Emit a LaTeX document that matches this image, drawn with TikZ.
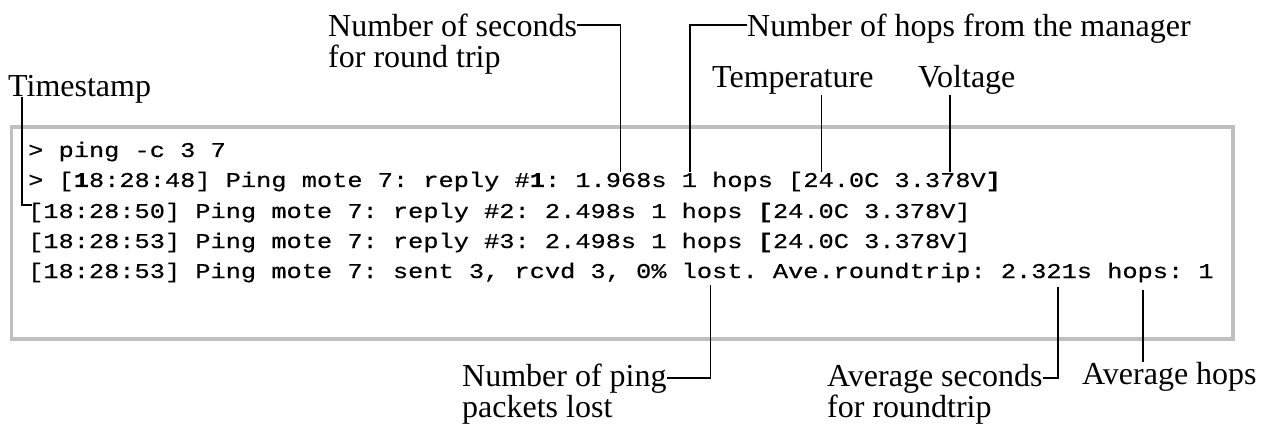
\documentclass[tikz,border=0pt]{standalone}
\usepackage{fontspec}
\setmainfont{Liberation Serif}
\newfontfamily\termfont{Liberation Mono}[FakeBold=0.4]
\usetikzlibrary{positioning}

\newcommand{\cw}{15.2pt}
% terminal text: 21pt glyphs stretched to a 15.2pt cell
\newlength{\termw}
\settowidth{\termw}{\fontsize{21}{21}\termfont 0000000000}
\pgfmathsetmacro{\termscale}{152/\termw}
\newcommand{\termline}[1]{\scalebox{\termscale}[1]{#1}}
\tikzset{
	lbl/.style={font=\fontsize{32}{31}\selectfont,inner sep=0pt,align=left,anchor=base west},
	term/.style={font=\fontsize{21}{21}\termfont\frenchspacing,inner sep=0pt,anchor=base west},
	lead/.style={line width=1.3pt},
}

\begin{document}
\begin{tikzpicture}[x=1pt,y=-1pt]
		\useasboundingbox (0,0) rectangle (1265,430);
		\draw[black!25,line width=3.5pt] (11.5,127) rectangle (1233,339);

		\node[term] (l1) at (28,157) {\termline{> ping -c 3 7}};
		\node[term] (l2) at (28,187) {\termline{> [{\bfseries 1}8:28:48] Ping mote 7: reply \#{\bfseries 1}: 1.968s 1 hops [24.0C 3.378V{\bfseries ]}}};
		\node[term] (l3) at (28,218) {\termline{[18:28:50] Ping mote 7: reply \#2: 2.498s 1 hops {\bfseries [}24.0C 3.378V]}};
		\node[term] (l4) at (28,248) {\termline{[18:28:53] Ping mote 7: reply \#3: 2.498s 1 hops {\bfseries [}24.0C 3.378V]}};
		\node[term] (l5) at (28,278) {\termline{[18:28:53] Ping mote 7: sent 3, rcvd 3, 0\% lost. Ave.roundtrip: 2.321s hops: 1}};

		\node[lbl] (ts) at (8,97) {Timestamp};
		\node[lbl] (secs) at (328,68) {Number of seconds\\for round trip};
		\node[lbl] (hops) at (747,37) {Number of hops from the manager};
		\node[lbl] (temp) at (712,88) {Temperature};
		\node[lbl] (volt) at (918,88) {Voltage};
		\node[lbl] (lost) at (462,417) {Number of ping\\packets lost};
		\node[lbl] (avgsec) at (827,417) {Average seconds\\for roundtrip};
		\node[lbl] (avghops) at (1082,384) {Average hops};

		\coordinate (c-ts) at ([xshift=4pt,yshift=13pt]l3.base west);
		\coordinate (c-sec) at ([xshift=39*\cw,yshift=15pt]l2.base west);
		\coordinate (c-hop) at ([xshift=43.55*\cw,yshift=15pt]l2.base west);
		\coordinate (c-tmp) at ([xshift=52.2*\cw,yshift=15pt]l2.base west);
		\coordinate (c-vlt) at ([xshift=60.66*\cw,yshift=15pt]l2.base west);
		\coordinate (c-lost) at ([xshift=44.9*\cw,yshift=-7pt]l5.base west);
		\coordinate (c-asec) at ([xshift=67.76*\cw,yshift=-9pt]l5.base west);
		\coordinate (c-ahop) at ([xshift=73.36*\cw,yshift=-12pt]l5.base west);

		\draw[lead] ([xshift=14pt]ts.base west)|-(c-ts);
		\draw[lead] ([yshift=43pt]secs.base east)-|(c-sec);
		\draw[lead] ([yshift=12pt]hops.base west)-|(c-hop);
		\draw[lead] (temp.south -| c-tmp)--(c-tmp);
		\draw[lead] (volt.south -| c-vlt)--(c-vlt);
		\draw[lead] ([yshift=39pt]lost.base east)-|(c-lost);
		\draw[lead] ([yshift=39pt]avgsec.base east)-|(c-asec);
		\draw[lead] (avghops.north -| c-ahop)--(c-ahop);
\end{tikzpicture}
\end{document}
